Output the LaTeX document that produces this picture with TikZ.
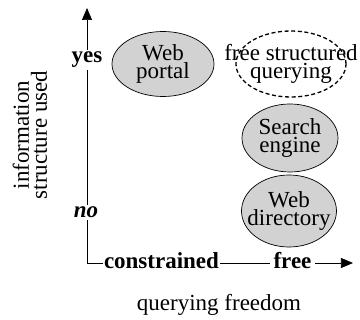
\documentclass[tikz,border=0pt]{standalone}
\usepackage{fontspec}
\setmainfont{Liberation Serif}
\usetikzlibrary{arrows.meta,shapes.geometric}
\begin{document}
\begin{tikzpicture}[x=1pt,y=-1pt,
  txt/.style={font=\fontsize{23}{18}\selectfont, inner sep=0pt},
  bold/.style={font=\fontsize{23}{18}\selectfont\bfseries},
  axislabel/.style={fill=white, inner ysep=2pt, anchor=base},
  % fixed-size ellipses: the negative inner sep lets the minimum size govern
  oval/.style={txt, ellipse, draw, fill=gray!35, line width=0.7pt,
    inner xsep=-40pt, inner ysep=-20pt, align=center},
  dashoval/.style={txt, ellipse, draw, line width=1.3pt,
    dash pattern=on 4pt off 2.6pt, inner xsep=-40pt, inner ysep=-20pt, align=center},
  axis/.style={line width=0.7pt},
  tip/.style={-{Triangle[length=12pt,width=10pt]}}
]
\useasboundingbox (0,0) rectangle (360,320);

% axes
\coordinate (o) at (87,263);
\coordinate (ytip) at (87,8);
\coordinate (xtip) at (353,263);
\draw[axis, tip] (o) -- (ytip);
\draw[axis, tip] (o) -- (xtip);

% axis value labels, set over the axis lines
\node[axislabel, bold, inner xsep=1pt] (yes) at (87,63) {yes};
\node[axislabel, bold, inner xsep=1pt, font=\fontsize{23}{18}\selectfont\bfseries\itshape] (no) at (86,218) {no};
\node[axislabel, bold, inner xsep=1pt] (con) at (161.5,269) {constrained};
\node[axislabel, bold, inner xsep=4pt] (free) at (292.5,269) {free};

% axis titles
\node[txt, rotate=90, align=center] (ytitle) at (30,135) {information\\structure used};
\node[txt, anchor=base] (xtitle) at (219,311) {querying freedom};

% systems
\node[oval, minimum width=102pt, minimum height=65pt] (wp) at (163,64) {Web\\portal};
\node[dashoval, minimum width=110pt, minimum height=66pt] (fsq) at (291,64) {free structured\\querying};
\node[oval, minimum width=96pt, minimum height=68pt] (se) at (290,138) {Search\\engine};
\node[oval, minimum width=95pt, minimum height=72pt] (wd) at (289,211) {Web\\directory};
\end{tikzpicture}
\end{document}
